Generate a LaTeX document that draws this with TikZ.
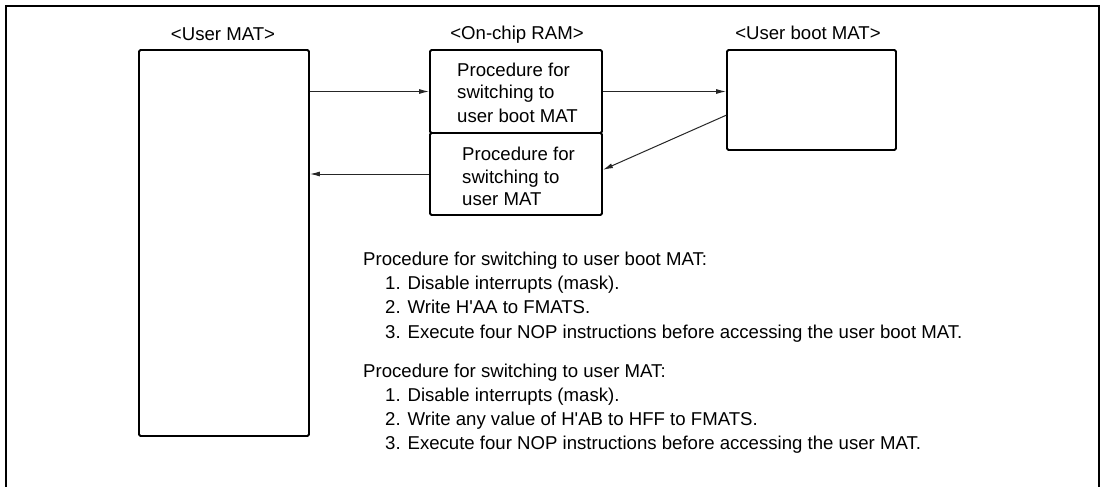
\documentclass[tikz,border=0pt]{standalone}
\usepackage{fontspec}
\setmainfont[Ligatures=TeXOff]{Liberation Sans}
\usetikzlibrary{arrows.meta,calc}
\begin{document}
\begin{tikzpicture}[x=1pt,y=1pt,
  font=\fontsize{18.6}{22}\selectfont,
  box/.style={draw=black,line width=1.8pt,rounded corners=1.5pt,inner sep=0pt,fill=none},
  lbl/.style={anchor=base,inner sep=0pt},
  txt/.style={anchor=base west,inner sep=0pt},
  arr/.style={draw=black!85,line width=1pt,-{Latex[length=10pt,width=5pt]}},
  frame/.style={draw=black,line width=2.4pt}]
\useasboundingbox (0,0) rectangle (1103,-487);
\fill[white] (0,0) rectangle (1103,-487);
% outer frame (open at the bottom)
\draw[frame] (6,-487) -- (6,-6) -- (1099,-6) -- (1099,-487);

% boxes
\node[box,minimum width=170pt,minimum height=386pt] (umat) at (224,-243) {};
\node[box,minimum width=172pt,minimum height=83pt] (ramTop) at (516,-91.5) {};
\node[box,minimum width=172pt,minimum height=82pt] (ramBot) at (516,-174) {};
\node[box,minimum width=169pt,minimum height=100pt] (uboot) at (811.5,-100) {};

% labels
\node[lbl] (lumat) at (223,-41) {<User MAT>};
\node[lbl] (lram) at (517,-40) {<On-chip RAM>};
\node[lbl] (lboot) at (808,-40) {<User boot MAT>};

% text in RAM
\node[txt] (t1a) at (457,-77) {Procedure for};
\node[txt] (t1b) at (457,-99) {switching to};
\node[txt] (t1c) at (457,-122) {user boot MAT};
\node[txt] (t2a) at (462,-160) {Procedure for};
\node[txt] (t2b) at (462,-183) {switching to};
\node[txt] (t2c) at (462,-205) {user MAT};

% connectors
\coordinate (bootout) at ($(uboot.north west)!0.65!(uboot.south west)$);
\coordinate (ramin) at ($(ramBot.north east)!0.45!(ramBot.south east)$);
\draw[arr] (umat.east |- ramTop.west) -- (ramTop.west);
\draw[arr] (ramTop.east) -- (ramTop.east -| uboot.west);
\draw[arr] (bootout) -- (ramin);
\draw[arr] (ramBot.west) -- (ramBot.west -| umat.east);

% description
\node[txt] (h1) at (363,-265) {Procedure for switching to user boot MAT:};
\node[txt] (h1a) at (385,-289.5) {1. Disable interrupts (mask).};
\node[txt] (h1b) at (385,-313.5) {2. Write H'AA to FMATS.};
\node[txt] (h1c) at (385,-338) {3. Execute four NOP instructions before accessing the user boot MAT.};
\node[txt] (h2) at (363,-377) {Procedure for switching to user MAT:};
\node[txt] (h2a) at (385,-401) {1. Disable interrupts (mask).};
\node[txt] (h2b) at (385,-425) {2. Write any value of H'AB to HFF to FMATS.};
\node[txt] (h2c) at (385,-449) {3. Execute four NOP instructions before accessing the user MAT.};
\end{tikzpicture}
\end{document}
